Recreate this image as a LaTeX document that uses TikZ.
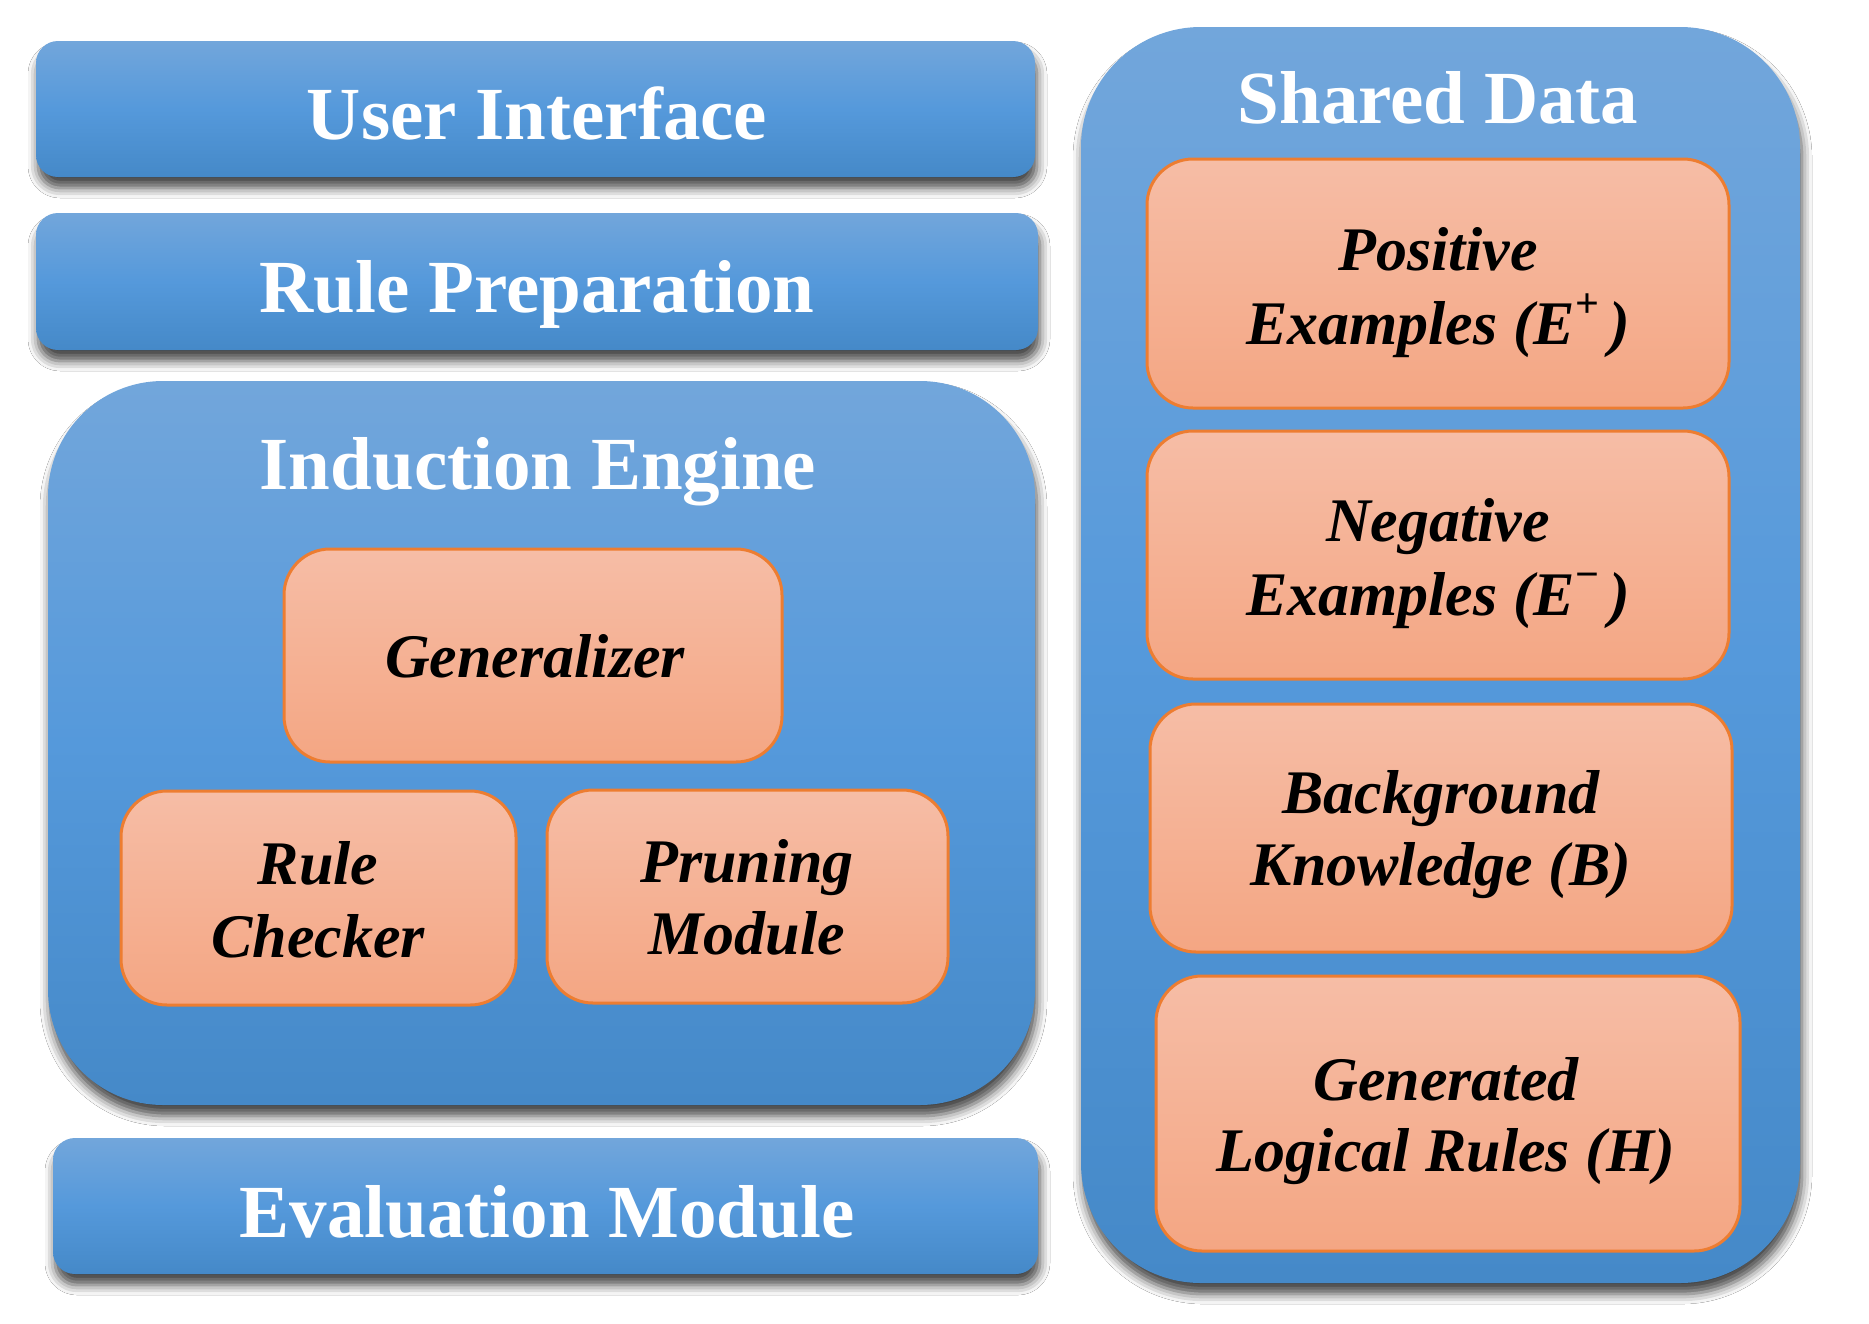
\documentclass[tikz,border=0pt]{standalone}
\usepackage{fontspec}
\setmainfont{Liberation Serif}
\usetikzlibrary{shadows.blur}
\definecolor{btop}{HTML}{72A6DB}
\definecolor{bmid}{HTML}{5599DB}
\definecolor{bbot}{HTML}{4589C8}
\definecolor{otop}{HTML}{F6BDA6}
\definecolor{obot}{HTML}{F4A683}
\definecolor{oline}{HTML}{ED7D31}
\newcommand{\supsign}[1]{\raisebox{0.42em}{\fontsize{42}{42}\selectfont\upshape #1}}
\tikzset{
  bluebox/.style={rounded corners=#1, top color=btop, bottom color=bbot, middle color=bmid,
    draw=none, inner sep=0pt, outer sep=0pt,
    blur shadow={shadow xshift=2pt, shadow yshift=-11pt, shadow blur radius=10pt, shadow opacity=72}},
  orangebox/.style={rounded corners=46pt, top color=otop, bottom color=obot,
    draw=oline, line width=3pt, inner sep=0pt, outer sep=0pt},
  titletext/.style={font=\fontsize{75}{90}\selectfont\bfseries, text=white, anchor=base, inner sep=0pt},
  itemtext/.style={font=\fontsize{62}{74}\selectfont\bfseries\itshape, text=black, anchor=base, inner sep=0pt},
}
\begin{document}
\begin{tikzpicture}[x=1pt,y=-1pt]
\fill[white] (0,0) rectangle (1869,1323);
\useasboundingbox (0,0) rectangle (1869,1323);

% left column
\node[bluebox=22pt, minimum width=999pt, minimum height=136pt] (ui) at (535.5,109) {};
\node[titletext] (ui-t) at (537,139) {User Interface};

\node[bluebox=22pt, minimum width=1002pt, minimum height=137pt] (rp) at (537,281.5) {};
\node[titletext] (rp-t) at (537,312) {Rule Preparation};

\node[bluebox=115pt, minimum width=987pt, minimum height=724pt] (ie) at (541.5,743) {};
\node[titletext] (ie-t) at (538,489) {Induction Engine};

\node[orangebox, minimum width=498pt, minimum height=213pt] (gen) at (533,655.5) {};
\node[itemtext] (gen-t) at (535,677) {Generalizer};

\node[orangebox, minimum width=395pt, minimum height=214pt] (rc) at (318.5,898) {};
\node[itemtext] (rc-t1) at (318,884) {Rule};
\node[itemtext] (rc-t2) at (318,957) {Checker};

\node[orangebox, minimum width=401pt, minimum height=213pt] (pm) at (747.5,896.5) {};
\node[itemtext] (pm-t1) at (747,882) {Pruning};
\node[itemtext] (pm-t2) at (747,954) {Module};

\node[bluebox=22pt, minimum width=985pt, minimum height=136pt] (em) at (545.5,1206) {};
\node[titletext] (em-t) at (547,1237) {Evaluation Module};

% right column
\node[bluebox=120pt, minimum width=719pt, minimum height=1256pt] (sd) at (1440.5,655) {};
\node[titletext] (sd-t) at (1438,123) {Shared Data};

\node[orangebox, minimum width=582pt, minimum height=249pt] (pos) at (1438,283.5) {};
\node[itemtext] (pos-t1) at (1438,270) {Positive};
\node[itemtext] (pos-t2) at (1438,344) {Examples (E\supsign{+}\,)};

\node[orangebox, minimum width=582pt, minimum height=248pt] (neg) at (1438,555) {};
\node[itemtext] (neg-t1) at (1438,541) {Negative};
\node[itemtext] (neg-t2) at (1438,615) {Examples (E\supsign{−}\,)};

\node[orangebox, minimum width=582pt, minimum height=248pt] (bk) at (1441,828) {};
\node[itemtext] (bk-t1) at (1441,813) {Background};
\node[itemtext] (bk-t2) at (1441,885) {Knowledge (B)};

\node[orangebox, minimum width=584pt, minimum height=275pt] (gl) at (1448,1113.5) {};
\node[itemtext] (gl-t1) at (1446,1100) {Generated};
\node[itemtext] (gl-t2) at (1446,1171) {Logical Rules (H)};
\end{tikzpicture}
\end{document}
